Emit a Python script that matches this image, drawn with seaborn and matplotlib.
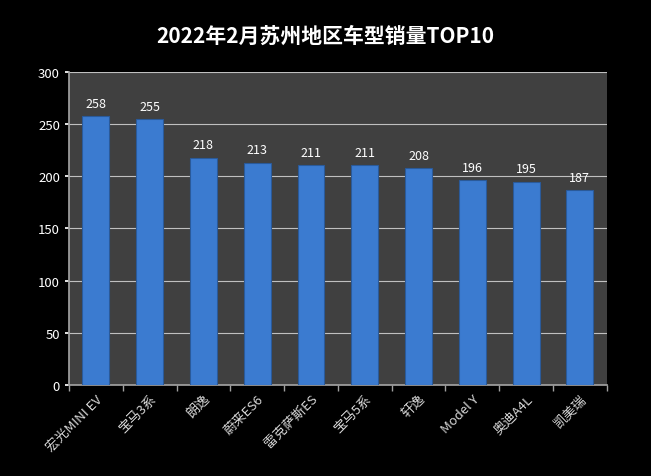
import matplotlib
matplotlib.use("Agg")
import matplotlib.pyplot as plt
import seaborn as sns
import pandas as pd

models = ["宏光MINI EV", "宝马3系", "朗逸", "蔚来ES6", "雷克萨斯ES",
          "宝马5系", "轩逸", "Model Y", "奥迪A4L", "凯美瑞"]
sales = [258, 255, 218, 213, 211, 211, 208, 196, 195, 187]
y_ticks = [0, 50, 100, 150, 200, 250, 300]

df = pd.DataFrame({"model": models, "sales": sales})

sns.set_theme(style="dark")
plt.rcParams["font.family"] = ["Noto Sans CJK SC", "DejaVu Sans"]

fig = plt.figure(figsize=(6.51, 4.77), dpi=100, facecolor="black")
ax = fig.add_axes([0.106, 0.191, 0.826, 0.656])
ax.set_facecolor("#404040")

sns.barplot(data=df, x="model", y="sales", color="#3b7bd0", width=0.5,
            saturation=1, ax=ax, zorder=3)
for bar in ax.patches:
    bar.set_edgecolor("#2a5a9a")
    bar.set_linewidth(0.8)

for i, v in enumerate(sales):
    ax.text(i, v + 6, str(v), ha="center", va="bottom", color="white",
            fontsize=9)

ax.set_ylim(0, 300)
ax.set_xlim(-0.5, len(models) - 0.5)
ax.set_yticks(y_ticks)
# category boundary tick marks, like the original chart
ax.set_xticks([i - 0.5 for i in range(len(models) + 1)], minor=True)
ax.yaxis.grid(True, color="#c0c0c0", linewidth=0.8)
ax.xaxis.grid(False)
ax.set_axisbelow(True)
ax.tick_params(axis="y", colors="white", labelsize=9.5, length=3, left=True)
ax.tick_params(axis="x", which="major", colors="#d8d8d8", labelsize=9.5,
               length=0, pad=5)
ax.tick_params(axis="x", which="minor", colors="#a0a0a0", length=4,
               bottom=True)
plt.setp(ax.get_xticklabels(), rotation=45, ha="right", rotation_mode="anchor")
for s in ["top", "right"]:
    ax.spines[s].set_visible(False)
for s in ["left", "bottom"]:
    ax.spines[s].set_color("#a0a0a0")
ax.set_xlabel("")
ax.set_ylabel("")

fig.suptitle("2022年2月苏州地区车型销量TOP10", color="white", fontsize=15,
             fontweight="bold", y=0.945)

fig.savefig("out.png", dpi=100, facecolor="black")
